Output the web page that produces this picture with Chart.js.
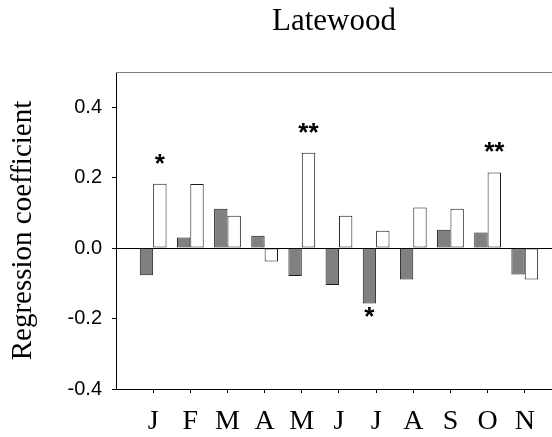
<!DOCTYPE html>
<html><head><meta charset="utf-8">
<script src="https://cdn.jsdelivr.net/npm/chart.js@4.4.0/dist/chart.umd.min.js"></script>
<style>html,body{margin:0;padding:0;background:#fff;}</style>
</head><body>
<canvas id="c" width="552" height="437"></canvas>
<script>
const months = ['J','F','M','A','M','J','J','A','S','O','N'];
const grayValues  = [-0.077, 0.030, 0.112, 0.035, -0.079, -0.105, -0.157, -0.089, 0.052, 0.044, -0.075];
const whiteValues = [ 0.183, 0.182, 0.092, -0.038, 0.271, 0.092, 0.049, 0.115, 0.112, 0.215, -0.089];
const graySig  = ['', '', '', '', '', '', '*', '', '', '', ''];
const whiteSig = ['*', '', '', '', '**', '', '', '', '', '**', ''];
const yTicks = [-0.4, -0.2, 0.0, 0.2, 0.4];
const xPositions = months.map((m, i) => i + 1);

const starPlugin = {
  id: 'stars',
  afterDatasetsDraw(chart) {
    const ctx = chart.ctx;
    const sigs = [graySig, whiteSig];
    ctx.save();
    ctx.font = 'bold 26px "Liberation Sans", Arial, sans-serif';
    ctx.fillStyle = '#000';
    ctx.textAlign = 'center';
    ctx.textBaseline = 'alphabetic';
    chart.data.datasets.forEach((ds, di) => {
      const meta = chart.getDatasetMeta(di);
      meta.data.forEach((bar, i) => {
        const s = sigs[di][i];
        if (!s) return;
        const v = ds.data[i].y;
        const y = v >= 0 ? bar.y - 12 : bar.y + 22;
        ctx.fillText(s, bar.x, y);
      });
    });
    ctx.restore();
  },
  afterDraw(chart) {
    const a = chart.chartArea, ctx = chart.ctx;
    ctx.save();
    ctx.strokeStyle = '#808080';
    ctx.lineWidth = 1;
    ctx.beginPath();
    ctx.moveTo(a.left, a.top + 0.5);
    ctx.lineTo(a.right, a.top + 0.5);
    ctx.stroke();
    ctx.restore();
  }
};

new Chart(document.getElementById('c'), {
  type: 'bar',
  data: {
    datasets: [
      { data: grayValues.map((v, i) => ({x: xPositions[i], y: v})), backgroundColor: '#808080', borderColor: '#1a1a1a', borderWidth: 1, borderSkipped: false, categoryPercentage: 0.72, barPercentage: 1 },
      { data: whiteValues.map((v, i) => ({x: xPositions[i], y: v})), backgroundColor: '#ffffff', borderColor: '#1a1a1a', borderWidth: 1, borderSkipped: false, categoryPercentage: 0.72, barPercentage: 1 }
    ]
  },
  options: {
    responsive: false,
    animation: false,
    devicePixelRatio: 1,
    layout: { padding: 0 },
    plugins: {
      legend: { display: false },
      tooltip: { enabled: false },
      title: {
        display: true, text: 'Latewood', fullSize: false, color: '#000',
        font: { family: '"Liberation Serif", "Times New Roman", serif', size: 31, weight: 'normal', lineHeight: 1.2 },
        padding: { top: 3, bottom: 31.8 }
      }
    },
    scales: {
      x: {
        type: 'linear', min: 0, max: 11.733, offset: false,
        afterBuildTicks: s => { s.ticks = xPositions.map(v => ({ value: v })); },
        afterFit: s => { s.height = 48; },
        grid: { offset: false, drawOnChartArea: false, drawTicks: true, tickLength: 4, tickColor: '#000' },
        border: { color: '#000', width: 1 },
        ticks: {
          autoSkip: false, maxRotation: 0, padding: 12, color: '#000',
          font: { family: '"Liberation Serif", "Times New Roman", serif', size: 28 },
          callback: v => months[Math.round(v) - 1] || ''
        }
      },
      y: {
        min: -0.4, max: 0.5,
        afterBuildTicks: s => { s.ticks = yTicks.map(v => ({ value: v })); },
        afterFit: s => { s.width = 116; },
        grid: { drawOnChartArea: true, drawTicks: true, tickLength: 4, tickColor: '#000',
          color: c => (c.tick && Math.abs(c.tick.value) < 1e-9) ? '#000' : 'rgba(0,0,0,0)', lineWidth: 1 },
        border: { color: '#000', width: 1 },
        ticks: {
          padding: 10, color: '#000',
          font: { family: '"Liberation Sans", Arial, sans-serif', size: 20 },
          callback: v => Number(v).toFixed(1)
        },
        title: {
          display: true, text: 'Regression coefficient', color: '#000',
          font: { family: '"Liberation Serif", "Times New Roman", serif', size: 29, lineHeight: 1.2 },
          padding: { top: 6, bottom: 0 }
        }
      }
    }
  },
  plugins: [starPlugin]
});
</script>
</body></html>
